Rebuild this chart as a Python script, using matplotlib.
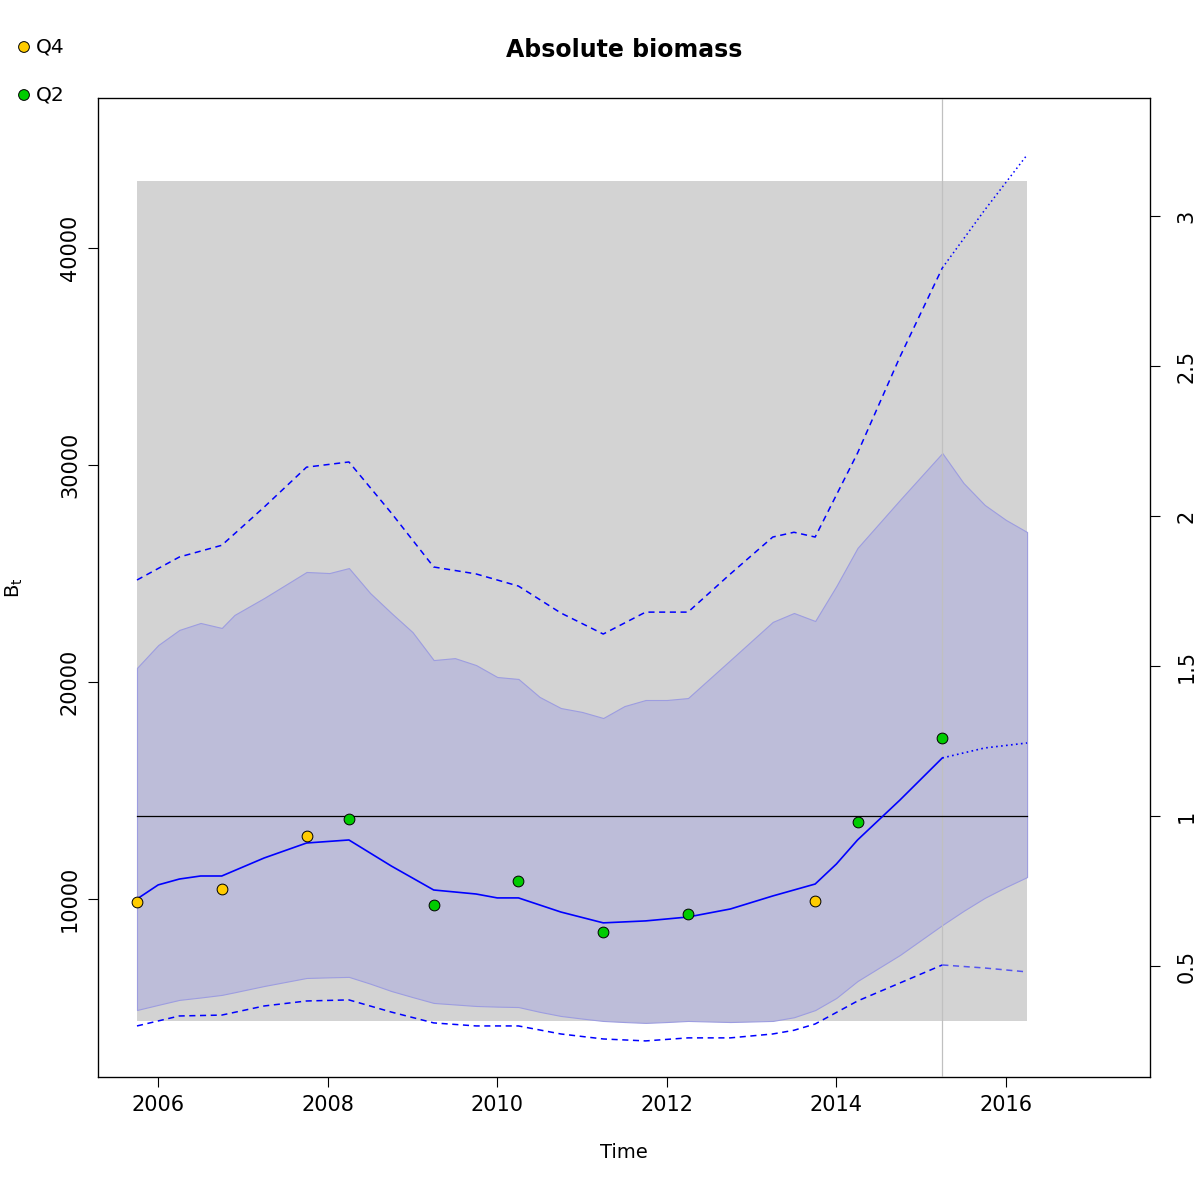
import numpy as np
import matplotlib.pyplot as plt

# time grid (quarterly-ish points)
t_est = [2005.75, 2006.0, 2006.25, 2006.5, 2006.75, 2007.25, 2007.75, 2008.25, 2008.75,
         2009.25, 2009.75, 2010.0, 2010.25, 2010.75, 2011.25, 2011.75, 2012.25, 2012.75,
         2013.25, 2013.75, 2014.0, 2014.25, 2014.75, 2015.25]
b_est = [10000, 10650, 10920, 11060, 11060, 11890, 12580, 12720, 11520,
         10415, 10230, 10050, 10050, 9400, 8900, 8990, 9170, 9540,
         10140, 10690, 11610, 12720, 14560, 16500]

t_fc = [2015.25, 2015.75, 2016.25]
b_fc = [16500, 16960, 17190]

t_ci = [2005.75, 2006.25, 2006.75, 2007.25, 2007.75, 2008.25, 2008.75, 2009.25, 2009.75,
        2010.25, 2010.75, 2011.25, 2011.75, 2012.25, 2012.75, 2013.25, 2013.5, 2013.75,
        2014.25, 2014.75, 2015.25]
ci_up = [24700, 25760, 26300, 28060, 29900, 30140, 27790, 25300, 24980,
         24420, 23180, 22210, 23220, 23220, 24980, 26680, 26900, 26680,
         30550, 34980, 39080]
ci_lo = [4150, 4610, 4650, 5070, 5300, 5350, 4790, 4290, 4150,
         4150, 3780, 3550, 3460, 3600, 3600, 3780, 3950, 4240,
         5300, 6130, 6960]
ci_up_fc = [39080, 41750, 44290]
ci_lo_fc = [6960, 6820, 6640]

# shaded band
t_band = [2005.75, 2006.0, 2006.25, 2006.5, 2006.75, 2006.9, 2007.25, 2007.75, 2008.02,
          2008.25, 2008.5, 2008.75, 2009.0, 2009.25, 2009.5, 2009.75, 2010.0, 2010.25,
          2010.5, 2010.75, 2011.0, 2011.25, 2011.5, 2011.75, 2012.0, 2012.25, 2012.75,
          2013.25, 2013.5, 2013.75, 2014.0, 2014.25, 2014.75, 2015.25, 2015.5, 2015.75,
          2016.0, 2016.25]
band_up = [20650, 21700, 22400, 22720, 22490, 23090, 23870, 25070, 25020,
           25250, 24100, 23180, 22300, 21010, 21100, 20780, 20230, 20140,
           19310, 18800, 18620, 18340, 18890, 19170, 19170, 19260, 21010,
           22770, 23180, 22810, 24420, 26180, 28390, 30550, 29170, 28160,
           27470, 26910]
band_lo = [4885, 5120, 5350, 5460, 5580, 5700, 5990, 6360, 6390,
           6410, 6100, 5760, 5480, 5210, 5140, 5070, 5040, 5020,
           4800, 4610, 4490, 4380, 4330, 4290, 4330, 4380, 4330,
           4380, 4550, 4880, 5440, 6220, 7420, 8800, 9450, 10050,
           10550, 11010]

# index observations
q4_t = [2005.75, 2006.75, 2007.75, 2013.75]
q4_b = [9860, 10460, 12900, 9910]
q2_t = [2008.25, 2009.25, 2010.25, 2011.25, 2012.25, 2014.25, 2015.25]
q2_b = [13690, 9720, 10830, 8480, 9310, 13550, 17420]

bmsy = 13825
bmsy_lo = 4378
bmsy_hi = 43088

fig = plt.figure(figsize=(12, 12), dpi=100)
ax = fig.add_axes([98 / 1200, 123 / 1200, 1052 / 1200, 979 / 1200])

ax.fill_between([2005.75, 2016.25], bmsy_lo, bmsy_hi, color='#d3d3d3', lw=0, zorder=1)
ax.fill_between(t_band, band_lo, band_up, color='#bdbdd9', edgecolor='#9d9de0', lw=0.8, zorder=2)
ax.axvline(2015.25, color='#c0c0c0', lw=0.9, zorder=3)
ax.plot([2005.75, 2016.25], [bmsy, bmsy], color='black', lw=0.9, zorder=4)

ax.plot(t_ci, ci_up, color='blue', lw=1.1, ls=(0, (4, 3)), zorder=5)
ax.plot(t_ci, ci_lo, color='blue', lw=1.1, ls=(0, (4, 3)), zorder=5)
ax.plot(t_fc, ci_up_fc, color='blue', lw=1.1, ls=(0, (1, 2)), zorder=5)
ax.plot(t_fc, ci_lo_fc, color='#5555ee', lw=1.1, ls=(0, (4, 3)), zorder=5)
ax.plot(t_est, b_est, color='blue', lw=1.2, zorder=6)
ax.plot(t_fc, b_fc, color='blue', lw=1.2, ls=(0, (1, 2)), zorder=6)

ax.scatter(q4_t, q4_b, s=60, c='#ffcc00', edgecolors='black', linewidths=0.7, zorder=7)
ax.scatter(q2_t, q2_b, s=60, c='#00cc00', edgecolors='black', linewidths=0.7, zorder=7)

ax.set_xlim(2005.29, 2017.70)
ax.set_ylim(1797, 46912)
ax.set_xticks([2006, 2008, 2010, 2012, 2014, 2016])
ax.set_yticks([10000, 20000, 30000, 40000])
ax.tick_params(labelsize=15, length=7, width=0.8, pad=6)
for lab in ax.get_yticklabels():
    lab.set_rotation(90)
    lab.set_va('center')
for s in ax.spines.values():
    s.set_linewidth(0.9)

ax2 = ax.twinx()
ax2.set_ylim(1797 / bmsy, 46912 / bmsy)
ax2.set_yticks([0.5, 1, 1.5, 2, 2.5, 3])
ax2.set_yticklabels(['0.5', '1', '1.5', '2', '2.5', '3'])
ax2.tick_params(labelsize=15, length=7, width=0.8, pad=12)
for lab in ax2.get_yticklabels():
    lab.set_rotation(90)
    lab.set_va('center')

ax.set_xlabel('Time', fontsize=14, labelpad=20)
fig.text(14 / 1200, 1 - 588 / 1200, '$\\mathregular{B_t}$', fontsize=14, rotation=90,
         ha='center', va='center')
fig.text(624 / 1200, 1 - 50 / 1200, 'Absolute biomass', fontsize=17, fontweight='bold',
         ha='center', va='center')

# legend outside, top left
lax = fig.add_axes([0, 0, 1, 1], facecolor='none')
lax.set_xlim(0, 1200)
lax.set_ylim(1200, 0)
lax.axis('off')
lax.scatter([24, 24], [47, 95], s=60, c=['#ffcc00', '#00cc00'], edgecolors='black', linewidths=0.7)
lax.text(36, 47, 'Q4', fontsize=14.5, va='center')
lax.text(36, 95, 'Q2', fontsize=14.5, va='center')

fig.savefig('out.png', dpi=100)
